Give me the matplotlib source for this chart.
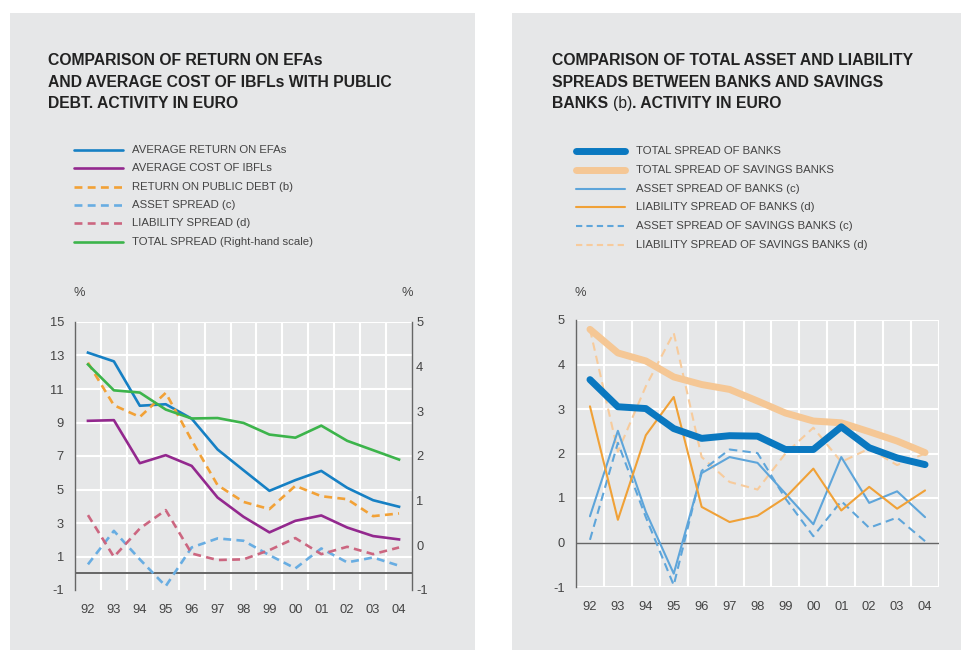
import matplotlib.pyplot as plt
from matplotlib.patches import Rectangle
from matplotlib.lines import Line2D

plt.rcParams['font.family'] = ['Liberation Sans', 'DejaVu Sans']
plt.rcParams['axes.unicode_minus'] = False

W, H = 962, 650

years = ['92', '93', '94', '95', '96', '97', '98', '99', '00', '01', '02', '03', '04']

# left chart (left scale except total spread)
avg_return_efa = [13.17, 12.65, 10.0, 10.09, 9.23, 7.39, 6.15, 4.92, 5.56, 6.11, 5.1, 4.36, 3.97]
avg_cost_ibfl = [9.1, 9.14, 6.57, 7.05, 6.41, 4.52, 3.37, 2.44, 3.13, 3.45, 2.73, 2.22, 2.02]
return_public_debt = [12.57, 10.03, 9.33, 10.77, 7.94, 5.26, 4.26, 3.83, 5.22, 4.6, 4.42, 3.41, 3.57]
asset_spread = [0.53, 2.53, 0.83, -0.77, 1.54, 2.08, 1.94, 1.08, 0.29, 1.48, 0.65, 0.94, 0.45]
liability_spread = [3.47, 0.98, 2.67, 3.77, 1.18, 0.79, 0.83, 1.38, 2.1, 1.14, 1.58, 1.14, 1.54]
total_spread = [4.05, 3.47, 3.42, 3.04, 2.84, 2.85, 2.74, 2.48, 2.41, 2.68, 2.34, 2.13, 1.92]

# right chart
total_banks = [3.66, 3.05, 3.01, 2.56, 2.34, 2.4, 2.39, 2.09, 2.09, 2.6, 2.13, 1.9, 1.75]
total_savings = [4.79, 4.26, 4.08, 3.72, 3.55, 3.44, 3.18, 2.91, 2.73, 2.69, 2.49, 2.28, 2.02]
asset_banks = [0.59, 2.51, 0.69, -0.7, 1.56, 1.92, 1.79, 1.1, 0.41, 1.92, 0.89, 1.15, 0.57]
liability_banks = [3.06, 0.51, 2.41, 3.27, 0.8, 0.46, 0.6, 1.01, 1.66, 0.72, 1.25, 0.76, 1.17]
asset_savings = [0.06, 2.24, 0.57, -0.96, 1.61, 2.09, 2.01, 0.99, 0.14, 0.93, 0.33, 0.56, 0.03]
liability_savings = [4.79, 2.04, 3.51, 4.71, 1.92, 1.36, 1.19, 2.0, 2.58, 1.81, 2.11, 1.74, 2.0]

left_ticks = [-1, 1, 3, 5, 7, 9, 11, 13, 15]
right_ticks = [-1, 0, 1, 2, 3, 4, 5]

PANEL = '#e6e7e8'
TXT = '#444444'
SPINE = '#666666'
TICK_FS = 9.3


def fx(x):
    return x / W


def fy(y):
    return 1 - y / H


fig = plt.figure(figsize=(W / 100, H / 100), dpi=100)
fig.patch.set_facecolor('white')
fig.add_artist(Rectangle((fx(10), 0), fx(465), 1 - 13 / H, transform=fig.transFigure,
                         facecolor=PANEL, edgecolor='none', zorder=0))
fig.add_artist(Rectangle((fx(512), 0), fx(450), 1 - 13 / H, transform=fig.transFigure,
                         facecolor=PANEL, edgecolor='none', zorder=0))

x = list(range(len(years)))


def base_axes(rect):
    ax = fig.add_axes(rect)
    ax.set_facecolor('none')
    ax.set_xlim(-0.5, 12.5)
    ax.set_xticks(x)
    ax.set_xticklabels(years)
    for s in ax.spines.values():
        s.set_visible(False)
    ax.spines['left'].set_visible(True)
    ax.spines['left'].set_color(SPINE)
    ax.spines['left'].set_linewidth(1.0)
    ax.tick_params(length=0, labelsize=TICK_FS, labelcolor=TXT)
    ax.tick_params(axis='x', pad=10)
    ax.tick_params(axis='y', pad=8)
    for i in range(12):
        ax.axvline(i + 0.5, color='white', lw=1.5, zorder=1)
    return ax


# ---------------- left chart ----------------
ax1 = base_axes([fx(75), fy(590), fx(412 - 75), (590 - 322) / H])
ax1.set_ylim(-1, 15)
ax1.set_yticks(left_ticks)
for v in left_ticks[1:]:
    ax1.axhline(v, color='white', lw=1.5, zorder=1)
ax1.axhline(0, color=SPINE, lw=1.4, zorder=1.5)

ax1b = ax1.twinx()
ax1b.set_ylim(-1, 5)
ax1b.set_yticks(right_ticks)
for s in ax1b.spines.values():
    s.set_visible(False)
ax1b.spines['right'].set_visible(True)
ax1b.spines['right'].set_color(SPINE)
ax1b.spines['right'].set_linewidth(1.0)
ax1b.tick_params(length=0, labelsize=TICK_FS, labelcolor=TXT, pad=3)

left_series = [
    ('AVERAGE RETURN ON EFAs', avg_return_efa, '#1680c4', '-', ax1),
    ('AVERAGE COST OF IBFLs', avg_cost_ibfl, '#93288e', '-', ax1),
    ('RETURN ON PUBLIC DEBT (b)', return_public_debt, '#f2a136', '--', ax1),
    ('ASSET SPREAD (c)', asset_spread, '#68ade2', '--', ax1),
    ('LIABILITY SPREAD (d)', liability_spread, '#cc6680', '--', ax1),
    ('TOTAL SPREAD (Right-hand scale)', total_spread, '#3cb44b', '-', ax1b),
]
for lab, vals, col, ls, a in left_series:
    kw = dict(dashes=(3, 2)) if ls == '--' else {}
    a.plot(x, vals, color=col, lw=1.9, zorder=3, **kw)

fig.text(fx(79), fy(293), '%', fontsize=TICK_FS, color=TXT, ha='center', va='center')
fig.text(fx(407), fy(293), '%', fontsize=TICK_FS, color=TXT, ha='center', va='center')

# ---------------- right chart ----------------
ax2 = base_axes([fx(576), fy(587), fx(939 - 576), (587 - 320) / H])
ax2.set_ylim(-1, 5)
ax2.set_yticks(right_ticks)
for v in right_ticks:
    if v != 0:
        ax2.axhline(v, color='white', lw=1.5, zorder=1)
ax2.axvline(12.5, color='white', lw=1.5, zorder=1)
ax2.axhline(0, color=SPINE, lw=1.0, zorder=1.5)

right_series = [
    ('TOTAL SPREAD OF BANKS', total_banks, '#0a78c0', '-', 5.0),
    ('TOTAL SPREAD OF SAVINGS BANKS', total_savings, '#f5c795', '-', 5.0),
    ('ASSET SPREAD OF BANKS (c)', asset_banks, '#5ea5da', '-', 1.5),
    ('LIABILITY SPREAD OF BANKS (d)', liability_banks, '#f0a137', '-', 1.5),
    ('ASSET SPREAD OF SAVINGS BANKS (c)', asset_savings, '#5ea5da', '--', 1.5),
    ('LIABILITY SPREAD OF SAVINGS BANKS (d)', liability_savings, '#f7cb9c', '--', 1.5),
]
order = [1, 0, 5, 4, 3, 2]
zs = {0: 5, 1: 4, 2: 3.2, 3: 3.3, 4: 3.1, 5: 3.0}
for i in order:
    lab, vals, col, ls, lw = right_series[i]
    kw = dict(dashes=(4, 2.5)) if ls == '--' else {}
    ax2.plot(x, vals, color=col, lw=lw, zorder=zs[i], solid_capstyle='round', **kw)

fig.text(fx(580), fy(293), '%', fontsize=TICK_FS, color=TXT, ha='center', va='center')

# ---------------- titles ----------------
TCOL = '#222222'
TFS = 11.3
tkw = dict(fontsize=TFS, fontweight='bold', color=TCOL, va='baseline', ha='left')
left_title = ['COMPARISON OF RETURN ON EFAs',
              'AND AVERAGE COST OF IBFLs WITH PUBLIC',
              'DEBT. ACTIVITY IN EURO']
for i, line in enumerate(left_title):
    fig.text(fx(48), fy(65 + 21.7 * i), line, **tkw)

right_title = ['COMPARISON OF TOTAL ASSET AND LIABILITY',
               'SPREADS BETWEEN BANKS AND SAVINGS']
for i, line in enumerate(right_title):
    fig.text(fx(552), fy(65 + 21.7 * i), line, **tkw)
t1 = fig.text(fx(552), fy(65 + 21.7 * 2), 'BANKS ', **tkw)
t2 = ax2.annotate('(b)', xy=(1, 0), xycoords=t1, fontsize=TFS, color=TCOL,
                  va='bottom', ha='left')
ax2.annotate('. ACTIVITY IN EURO', xy=(1, 0), xycoords=t2, fontsize=TFS,
             fontweight='bold', color=TCOL, va='bottom', ha='left')

# ---------------- legends ----------------
def legend_rows(x0, x1, xt, y0, dy, items):
    for k, (lab, col, ls, lw) in enumerate(items):
        yy = fy(y0 + dy * k)
        kw = dict(dashes=(3, 2)) if ls == '--' else {}
        fig.add_artist(Line2D([fx(x0), fx(x1)], [yy, yy], transform=fig.transFigure,
                              color=col, lw=lw, solid_capstyle='round', **kw))
        fig.text(fx(xt), yy, lab, fontsize=8.2, color=TXT, va='center', ha='left')


legend_rows(74, 123, 132, 150, 18.3,
            [(s[0], s[2], s[3], 1.9) for s in left_series])
legend_rows(576, 625, 636, 151, 18.8,
            [(s[0], s[2], s[3], s[4]) for s in right_series])

fig.savefig('out.png', dpi=100, facecolor='white')
